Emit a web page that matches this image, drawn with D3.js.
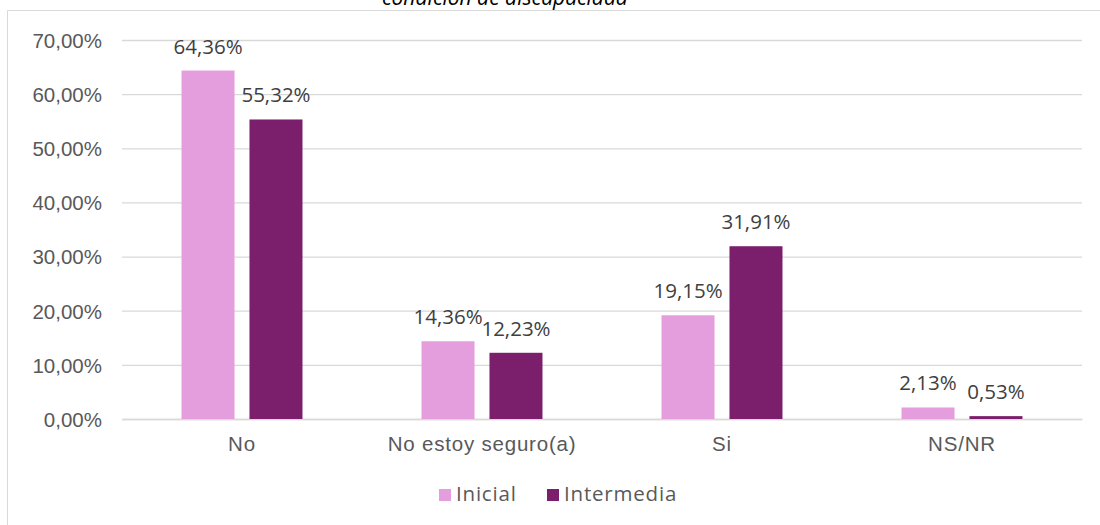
<!DOCTYPE html>
<html><head><meta charset="utf-8">
<script src="https://cdn.jsdelivr.net/npm/d3@7"></script>
<style>body{margin:0;background:#fff;} svg{display:block;font-family:"Open Sans",sans-serif;}</style>
</head><body><svg id="c" width="1100" height="525"></svg>
<script>
const categories = ["No", "No estoy seguro(a)", "Si", "NS/NR"];
const seriesNames = ["Inicial", "Intermedia"];
const inicial = [64.36, 14.36, 19.15, 2.13];
const intermedia = [55.32, 12.23, 31.91, 0.53];
const tickValues = [0, 10, 20, 30, 40, 50, 60, 70];
const colors = ["#E49EDD", "#7B1E6C"];
const titleText = "condición de discapacidad";

(function(){
const fmt = v => v.toFixed(2).replace(".", ",") + "%";
const svg = d3.select("#c");
const pL = 122, pR = 1082, pT = 40, pB = 419;

// frame
svg.append("line").attr("x1",7.5).attr("x2",7.5).attr("y1",10.5).attr("y2",525).attr("stroke","#d9d9d9");
svg.append("line").attr("x1",7.5).attr("x2",1100).attr("y1",10.5).attr("y2",10.5).attr("stroke","#d9d9d9");

svg.append("text").attr("x",505).attr("y",5).attr("text-anchor","middle")
  .attr("font-size",21).attr("font-style","italic").attr("fill","#000").text(titleText);

const y = d3.scaleLinear().domain([0,70]).range([pB, pT]);
const x0 = d3.scaleBand().domain(categories).range([pL, pR]).paddingInner(0.496).paddingOuter(0.248);
const x1 = d3.scaleBand().domain(seriesNames).range([0, x0.bandwidth()]).paddingInner(0.22);

const yAxis = d3.axisLeft(y).tickValues(tickValues).tickSize(-(pR-pL)).tickFormat(fmt).tickPadding(20);
const gy = svg.append("g").attr("transform",`translate(${pL},0)`).call(yAxis);
gy.select(".domain").remove();
gy.selectAll(".tick line").attr("stroke","#d9d9d9").attr("stroke-width",1.3);
gy.selectAll(".tick text").attr("fill","#595959").attr("font-size",20.5).attr("dy","0.36em");

const xAxis = d3.axisBottom(x0).tickSize(0).tickPadding(17);
const gx = svg.append("g").attr("transform",`translate(0,${pB})`).call(xAxis);
gx.select(".domain").attr("stroke","#d9d9d9").attr("stroke-width",1.3);
gx.selectAll(".tick text").attr("fill","#595959").attr("font-size",20.5).attr("letter-spacing",0.8);

const data = [inicial, intermedia];
seriesNames.forEach((s, si) => {
  const g = svg.append("g");
  g.selectAll("rect").data(categories).join("rect")
    .attr("x", c => x0(c) + x1(s))
    .attr("y", (c,i) => y(data[si][i]))
    .attr("width", x1.bandwidth())
    .attr("height", (c,i) => pB - y(data[si][i]))
    .attr("fill", colors[si]);
  g.selectAll("text").data(categories).join("text")
    .attr("x", c => x0(c) + x1(s) + x1.bandwidth()/2)
    .attr("y", (c,i) => y(data[si][i]) - 17)
    .attr("text-anchor","middle").attr("font-size",20.5).attr("fill","#404040")
    .text((c,i) => fmt(data[si][i]));
});

// legend
const legX = [439, 547];
seriesNames.forEach((s, si) => {
  svg.append("rect").attr("x", legX[si]).attr("y", 489).attr("width",12).attr("height",12).attr("fill",colors[si]);
  svg.append("text").attr("x", legX[si]+17).attr("y", 501).attr("font-size",20.5).attr("letter-spacing",0.8).attr("fill","#595959").text(s);
});
})();
</script></body></html>
